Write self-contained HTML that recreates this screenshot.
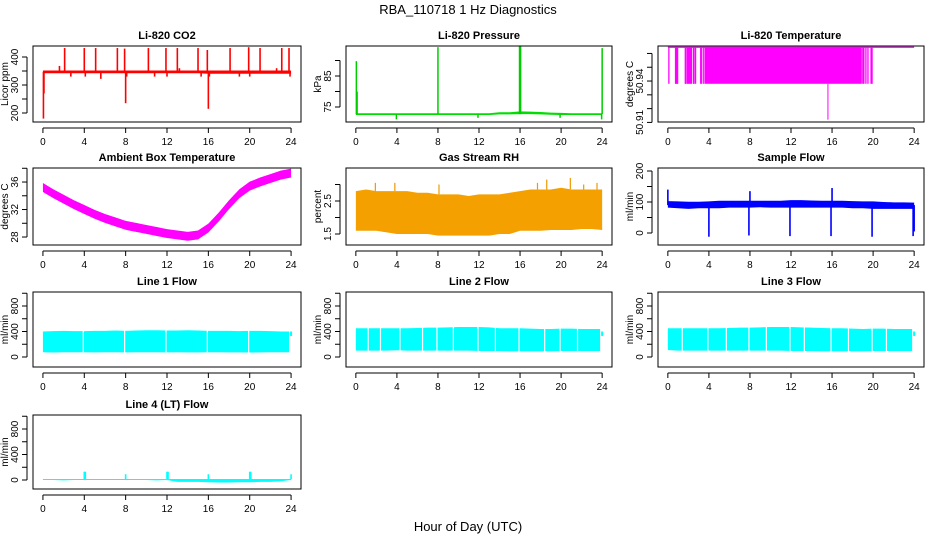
<!DOCTYPE html>
<html><head><meta charset="utf-8"><style>
body{margin:0;background:#fff;}
svg{display:block;font-family:"Liberation Sans",Arial,sans-serif;}
</style></head><body>
<svg id="chart" width="936" height="540" viewBox="0 0 936 540" xmlns="http://www.w3.org/2000/svg">
<rect width="936" height="540" fill="#fff"/>
<text x="468" y="14" text-anchor="middle" font-size="13">RBA_110718  1 Hz Diagnostics</text>
<text x="468" y="531" text-anchor="middle" font-size="13">Hour of Day (UTC)</text>
</svg>
<script>
// ---- data ----
const xTicks = [0,4,8,12,16,20,24];
const hourGrid = [0,1,2,3,4,5,6,7,8,9,10,11,12,13,14,15,16,17,18,19,20,21,22,23,24];
const flowGrid = [0,1,2,3,4,5,6,7,8,9,10,11,12,13,14,15,16,17,18,19,20,21,22,23,23.8];

// CO2
const co2Upper = [352,352,352,352,352,352,352,352,352,352,352,352,352,352,352,352,352,352,352,352,352,352,352,352,352];
const co2Lower = [342,342,342,342,342,342,342,342,342,342,342,342,342,342,342,342,340,340,340,340,340,340,340,340,340];
const co2SpikeTimes = [0.05,0.1,1.6,2.1,2.7,4.0,4.1,5.1,5.6,7.2,7.9,8.0,8.1,10.2,10.8,11.9,12.0,13.0,13.2,15.0,15.3,15.9,16.0,16.1,18.1,19.0,19.9,20.0,21.0,22.6,23.1,23.8,23.9];
const co2SpikeVals  = [180,270,368,432,330,432,330,432,322,432,430,235,330,432,330,432,330,432,360,432,330,425,215,330,432,330,435,330,432,360,432,432,330];

// Pressure
const presUpper = [73,73,73,73,73,73,73,73,73,73,73,73,73,73,73.3,73.3,73.6,73.5,73.4,73.2,73.1,73,73,73,73];
const presLower = [72.4,72.4,72.4,72.4,72.4,72.4,72.4,72.4,72.4,72.4,72.4,72.4,72.4,72.4,72.6,72.6,72.7,72.7,72.6,72.5,72.4,72.4,72.4,72.4,72.4];
const presSpikeTimes = [0.05,0.12,3.95,8.0,11.9,15.95,16.0,16.05,19.9,23.95,24.0];
const presSpikeVals  = [89.8,80,71,94.3,71.5,94.8,94.8,94.8,71.5,71,94];

// Li-820 temperature
const ltTop = 50.9645, ltLow = 50.938;
const ltBlockStart = 3.6, ltBlockEnd = 18.9;
const ltLineTimes = [0.1,0.75,0.8,0.9,0.95,1.7,1.75,1.9,2.0,2.1,2.2,2.3,2.5,2.55,2.7,3.2,3.3,3.5,19.0,19.1,19.3,19.5,19.8,19.9];
const ltDipTime = 15.6, ltDipVal = 50.912;

// Ambient box temperature (center) and half-width
const ambCenter = [35.2,34.3,33.5,32.7,32.0,31.3,30.7,30.2,29.7,29.4,29.1,28.8,28.5,28.3,28.1,28.3,29.3,30.9,32.7,34.3,35.4,36.0,36.5,37.0,37.3];
const ambHalf = 0.65;

// Gas stream RH
const rhUpper = [2.8,2.85,2.8,2.8,2.8,2.8,2.75,2.75,2.7,2.7,2.7,2.65,2.7,2.7,2.7,2.75,2.8,2.85,2.85,2.85,2.9,2.85,2.85,2.85,2.85];
const rhLower = [1.6,1.6,1.6,1.55,1.5,1.5,1.5,1.5,1.45,1.45,1.45,1.45,1.45,1.45,1.5,1.5,1.6,1.6,1.6,1.62,1.62,1.62,1.65,1.65,1.62];
const rhSpikeTimes = [1.9,3.8,8.1,17.7,18.6,20.9,22.2,23.5];
const rhSpikeVals  = [3.05,3.05,3.0,3.05,3.15,3.2,3.0,3.05];

// Sample flow
const sfUpper = [103,102,101,101,102,104,104,104,104,104,104,104,106,106,105,104,104,104,103,102,102,100,99,99,98];
const sfLower = [82,80,78,80,80,80,82,82,82,83,82,82,82,82,82,82,82,82,80,80,78,78,78,78,78];
const sfSpikeTimes = [0.0,4.0,7.9,8.0,11.9,15.9,16.0,19.9,23.9,24.0];
const sfSpikeVals  = [140,-12,-8,135,-10,-10,145,-12,-10,5];

// Line flows
const l1Upper = [400,405,410,405,405,410,410,415,410,415,420,420,415,415,420,415,410,410,410,405,410,410,405,400,400];
const l1Lower = [75,70,75,75,75,72,75,75,72,75,75,75,72,75,72,72,75,75,72,72,70,72,75,75,75];
const l1Gaps = [3.9,7.9,11.9,15.9,19.9];
const l2Upper = [450,450,450,450,450,450,455,460,460,465,470,470,470,465,450,450,450,445,440,440,445,445,440,440,440];
const l2Lower = [100,100,100,100,105,100,100,100,100,100,100,100,95,95,95,90,90,90,90,90,95,95,95,95,95];
const l2Gaps = [1.2,2.4,4.3,6.5,7.9,9.5,11.9,13.6,15.9,18.4,19.9,21.6];
const l3Upper = [450,450,450,450,450,450,455,460,460,465,470,470,470,465,460,455,450,450,445,440,445,445,440,440,440];
const l3Lower = [110,100,100,100,100,100,100,100,100,100,100,100,95,95,95,90,90,90,90,90,95,95,95,95,95];
const l3Gaps = [1.4,3.9,5.7,7.9,9.6,11.9,13.3,15.9,17.6,19.9,21.3];
const flowEndTimes = [24.0];
const flowEndTop = [400], flowEndBottom = [330];
const l4Upper = [15,15,15,15,15,15,15,15,15,15,15,15,15,15,15,15,15,15,15,15,15,15,15,15,15];
const l4Lower = [0,0,-5,0,0,0,0,0,0,0,0,-5,0,-30,-30,-30,-35,-40,-40,-35,-35,-30,-30,-20,0];
const l4SpikeTimes = [4.0,4.1,8.0,12.0,12.1,16.0,20.0,20.1,24.0];
const l4SpikeVals  = [130,130,90,130,130,90,130,130,90];

// ---- layout ----
const svg = document.getElementById('chart');
const NS = 'http://www.w3.org/2000/svg';
const colLeft = [33,346,658], colW = [268,266,266];
const rowTop = [46,168,292,415], rowH = [76,77,75,74];
function mk(tag, attrs, parent){
  const e = document.createElementNS(NS, tag);
  for (const k in attrs) e.setAttribute(k, attrs[k]);
  (parent||svg).appendChild(e); return e;
}
function panel(name, col, row, title, ylab, ylim, yticks, ylabels){
  const g = mk('g', {});
  
  
  const L = colLeft[col], W = colW[col], T = rowTop[row], H = rowH[row];
  const xs = h => L + (h + 0.96) / 25.92 * W;
  const ys = v => T + H - (v - ylim[0]) / (ylim[1] - ylim[0]) * H;
  const t = mk('text', {x: L + W/2, y: T - 7, 'text-anchor':'middle', 'font-size':11, 'font-weight':'bold'}, g);
  t.textContent = title;
  
  
  const plot = mk('g', {}, g);
  
  
  const ax = mk('g', {}, g);
  
  
  mk('rect', {x:L, y:T, width:W, height:H, fill:'none', stroke:'#000', 'stroke-width':1}, ax);
  mk('line', {x1:xs(0), x2:xs(24), y1:T+H+6, y2:T+H+6, stroke:'#000'}, ax);
  xTicks.forEach(h => {
    mk('line', {x1:xs(h), x2:xs(h), y1:T+H+6, y2:T+H+11, stroke:'#000'}, ax);
    const tl = mk('text', {x:xs(h), y:T+H+23, 'text-anchor':'middle', 'font-size':10}, ax);
    tl.textContent = h;
  });
  const y0 = ys(yticks[0]), y1 = ys(yticks[yticks.length-1]);
  mk('line', {x1:L-6, x2:L-6, y1:y0, y2:y1, stroke:'#000'}, ax);
  yticks.forEach((v,i) => {
    mk('line', {x1:L-11, x2:L-6, y1:ys(v), y2:ys(v), stroke:'#000'}, ax);
    if (ylabels[i] !== '') {
      const yl = mk('text', {x:0, y:0, 'text-anchor':'middle', 'font-size':10, transform:`translate(${L-15},${ys(v)}) rotate(-90)`}, ax);
      yl.textContent = ylabels[i];
    }
  });
  const yt = mk('text', {x:0, y:0, 'text-anchor':'middle', 'font-size':10, transform:`translate(${L-25},${T+H/2}) rotate(-90)`}, ax);
  yt.textContent = ylab;
  
  
  return {xs, ys, plot, L, W, T, H};
}
function band(p, times, up, lo, fill){
  let pts = times.map((h,i)=>`${p.xs(h)},${p.ys(up[i])}`);
  for (let i=times.length-1;i>=0;i--) pts.push(`${p.xs(times[i])},${p.ys(lo[i])}`);
  const e = mk('polygon', {points: pts.join(' '), fill: fill, stroke: 'none'}, p.plot);
  
  
}
function spikes(p, times, vals, baseFn, color, w){
  times.forEach((h,i)=>{
    const e = mk('line', {x1:p.xs(h), x2:p.xs(h), y1:p.ys(baseFn(h)), y2:p.ys(vals[i]), stroke:color, 'stroke-width':w||1.5}, p.plot);
    
    
  });
}
function gaps(p, times, up, lo){
  times.forEach(h=>{
    const i = Math.round(h);
    mk('line', {x1:p.xs(h), x2:p.xs(h), y1:p.ys(up[i])-3, y2:p.ys(lo[i])+3, stroke:'#fff', 'stroke-width':1.2}, p.plot);
  });
}
const interp = (arr) => (h) => { const i=Math.min(23,Math.floor(h)); const f=h-i; return arr[i]*(1-f)+arr[i+1]*f; };

// CO2
let p = panel('co2', 0, 0, 'Li-820 CO2', 'Licor ppm', [167.9,439.3], [200,250,300,350,400], ['200','','300','','400']);
band(p, hourGrid, co2Upper, co2Lower, '#ff0000');
spikes(p, co2SpikeTimes, co2SpikeVals, h=>347, '#ff0000', 1.6);

// Pressure
p = panel('pressure', 1, 0, 'Li-820 Pressure', 'kPa', [70.16,94.68], [75,80,85,90], ['75','','85','']);
band(p, hourGrid, presUpper, presLower, '#00dd00');
spikes(p, presSpikeTimes, presSpikeVals, h=>72.7, '#00cc00', 1.5);

// Li-820 Temperature
p = panel('li820-temp', 2, 0, 'Li-820 Temperature', 'degrees C', [50.9103,50.9654], [50.91,50.92,50.93,50.94,50.95,50.96], ['50.91','','','50.94','','']);
mk('rect', {x:p.xs(ltBlockStart), y:p.ys(ltTop), width:p.xs(ltBlockEnd)-p.xs(ltBlockStart), height:p.ys(ltLow)-p.ys(ltTop), fill:'#ff00ff'}, p.plot);
mk('line', {x1:p.xs(0), x2:p.xs(24), y1:p.ys(ltTop), y2:p.ys(ltTop), stroke:'#ff00ff', 'stroke-width':1.2}, p.plot);
spikes(p, ltLineTimes, ltLineTimes.map(()=>ltLow), h=>ltTop, '#ff00ff', 1.3);
spikes(p, [ltDipTime], [ltDipVal], h=>ltLow, '#ff00ff', 1);

// Ambient box temperature
p = panel('ambient-temp', 0, 1, 'Ambient Box Temperature', 'degrees C', [26.84,38.04], [28,30,32,34,36,38], ['28','','32','','36','']);
band(p, hourGrid, ambCenter.map(v=>v+ambHalf), ambCenter.map(v=>v-ambHalf), '#ff00ff');

// RH
p = panel('rh', 1, 1, 'Gas Stream RH', 'percent', [1.167,3.50], [1.5,2,2.5,3], ['1.5','','2.5','']);
band(p, hourGrid, rhUpper, rhLower, '#f4a000');
spikes(p, rhSpikeTimes, rhSpikeVals, interp(rhUpper), '#ee9900', 1.2);

// Sample flow
p = panel('sample-flow', 2, 1, 'Sample Flow', 'ml/min', [-38.7,209.7], [0,50,100,150,200], ['0','','100','','200']);
band(p, hourGrid, sfUpper, sfLower, '#0000ff');
spikes(p, sfSpikeTimes, sfSpikeVals, h=>90, '#0000ff', 1.6);

// Line flows
const flowTicks = [0,200,400,600,800,1000], flowLabels = ['0','','400','','800',''];
p = panel('line1-flow', 0, 2, 'Line 1 Flow', 'ml/min', [-156.9,1019.6], flowTicks, flowLabels);
band(p, flowGrid, l1Upper, l1Lower, '#00ffff'); gaps(p, l1Gaps, l1Upper, l1Lower);
spikes(p, flowEndTimes, flowEndTop, h=>flowEndBottom[0], '#00ffff', 2);
p = panel('line2-flow', 1, 2, 'Line 2 Flow', 'ml/min', [-156.9,1019.6], flowTicks, flowLabels);
band(p, flowGrid, l2Upper, l2Lower, '#00ffff'); gaps(p, l2Gaps, l2Upper, l2Lower);
spikes(p, flowEndTimes, flowEndTop, h=>flowEndBottom[0], '#00ffff', 2);
p = panel('line3-flow', 2, 2, 'Line 3 Flow', 'ml/min', [-156.9,1019.6], flowTicks, flowLabels);
band(p, flowGrid, l3Upper, l3Lower, '#00ffff'); gaps(p, l3Gaps, l3Upper, l3Lower);
spikes(p, flowEndTimes, flowEndTop, h=>flowEndBottom[0], '#00ffff', 2);
p = panel('line4-flow', 0, 3, 'Line 4 (LT) Flow', 'ml/min', [-141,1019.6], flowTicks, flowLabels);
band(p, hourGrid, l4Upper, l4Lower, '#00ffff');
spikes(p, l4SpikeTimes, l4SpikeVals, h=>10, '#00ffff', 1.6);
</script>
</body></html>
